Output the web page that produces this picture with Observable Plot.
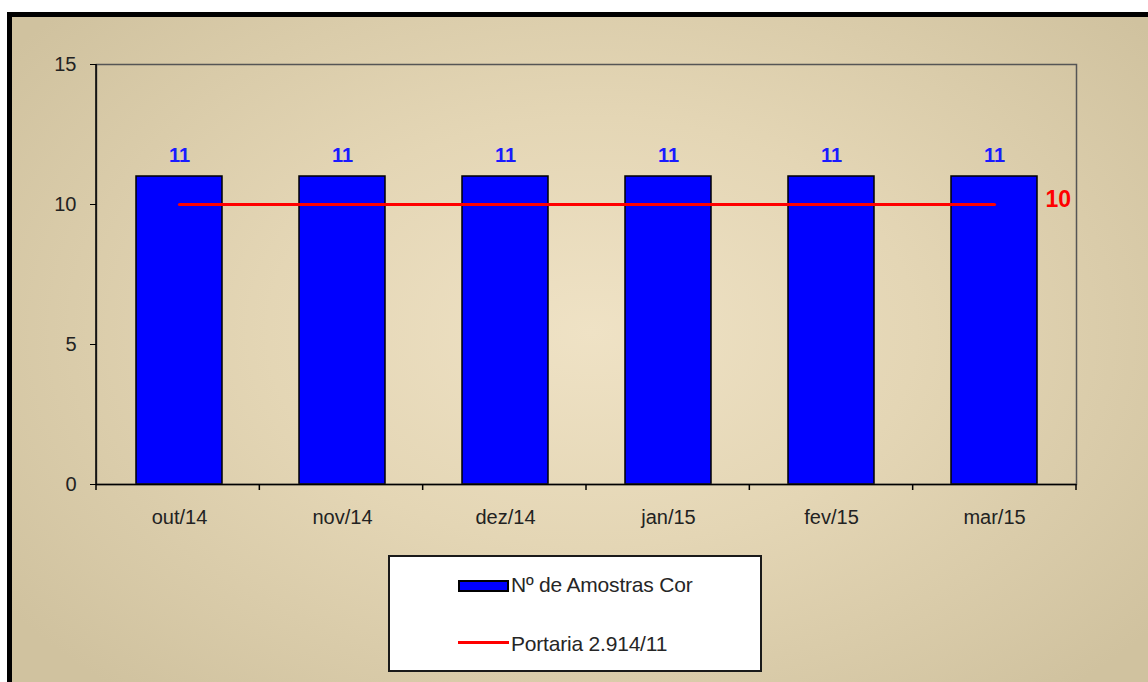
<!DOCTYPE html>
<html><head><meta charset="utf-8">
<script src="https://cdn.jsdelivr.net/npm/d3@7"></script>
<script src="https://cdn.jsdelivr.net/npm/@observablehq/plot@0.6"></script>
<style>
body{margin:0;background:#fff;}
#wrap{position:relative;width:1148px;height:682px;overflow:hidden;font-family:"Liberation Sans",Arial,sans-serif;}
#bg{position:absolute;left:7px;top:12px;width:1160px;height:700px;border-left:5px solid #000;border-top:5px solid #000;
  background:radial-gradient(ellipse 62% 68% at 50% 45%, #efe2c5 0%, #e4d6b5 45%, #d0c29f 100%);}
#chart{position:absolute;left:0;top:0;}
#legend{position:absolute;left:388px;top:555px;width:370px;height:113px;background:#fff;border:2px solid #1a1a1a;}
.li{position:absolute;font-size:21px;color:#262626;white-space:nowrap;letter-spacing:-0.2px;}
.sw{position:absolute;left:0;}
</style>
</head><body>
<div id="wrap"><div id="bg"></div><div id="chart"></div><div id="legend"></div></div>
<script>
const months = ["out/14","nov/14","dez/14","jan/15","fev/15","mar/15"];
const amostras = [11,11,11,11,11,11];
const portaria = [10,10,10,10,10,10];
const yTicks = [0,5,10,15];
const seriesNames = ["Nº de Amostras Cor","Portaria 2.914/11"];
const barColor = "#0000ff";
const lineColor = "#ff0000";

const data = months.map((m,i)=>({month:m, amostras:amostras[i], portaria:portaria[i]}));

const plot = Plot.plot({
  width:1148, height:682,
  marginLeft:96, marginRight:72, marginTop:64, marginBottom:198,
  style:{background:"transparent", fontFamily:"'Liberation Sans', Arial, sans-serif", fontSize:"20px", color:"#222", overflow:"visible"},
  x:{domain:months, paddingInner:0.475, paddingOuter:0.2375, label:null},
  y:{domain:[0,15], label:null},
  marks:[
    Plot.barY(data,{x:"month", y:"amostras", fill:barColor, stroke:"#000", strokeWidth:1.5}),
    Plot.lineY(data,{x:"month", y:"portaria", stroke:lineColor, strokeWidth:3.2}),
    Plot.text(data,{x:"month", y:"amostras", text:d=>String(d.amostras), dy:-21, fill:"#1a1aff", fontWeight:"bold", fontSize:20}),
    Plot.text(data.slice(-1),{x:"month", y:"portaria", text:d=>String(d.portaria), dx:51, dy:-5, textAnchor:"start", fill:lineColor, fontWeight:"bold", fontSize:23}),
    Plot.frame({stroke:"#555", strokeWidth:1.5}),
    Plot.ruleY([0],{stroke:"#000", strokeWidth:1.5}),
    Plot.axisY({ticks:yTicks, tickSize:6, tickPadding:14, stroke:"#000"}),
    Plot.axisX({tickSize:0, tickPadding:25})
  ]
});
document.getElementById("chart").appendChild(plot);

// left axis line and x tick marks at band boundaries, from the library's scales
const sx = plot.scale("x"), sy = plot.scale("y");
const svg = d3.select(plot);
const y0 = sy.apply(0), y1 = sy.apply(15);
const x0 = sx.range[0], xN = sx.range[1];
const bounds = d3.range(months.length + 1).map(i => x0 + i * (xN - x0) / months.length);
svg.append("line").attr("x1",x0).attr("x2",x0).attr("y1",y0).attr("y2",y1).attr("stroke","#000").attr("stroke-width",1.5);
svg.append("g").selectAll("line").data(bounds).join("line")
  .attr("x1",d=>d).attr("x2",d=>d).attr("y1",y0).attr("y2",y0+6).attr("stroke","#000").attr("stroke-width",1.5);

// legend
const lg = d3.select("#legend");
lg.append("div").attr("class","sw").style("left","68px").style("top","23px").style("width","47px").style("height","8px")
  .style("background",barColor).style("border","2px solid #000");
lg.append("div").attr("class","li").style("left","121px").style("top","16px").text(seriesNames[0]);
lg.append("div").attr("class","sw").style("left","68px").style("top","84px").style("width","51px").style("height","3px")
  .style("background",lineColor);
lg.append("div").attr("class","li").style("left","121px").style("top","75px").text(seriesNames[1]);
</script>
</body></html>
